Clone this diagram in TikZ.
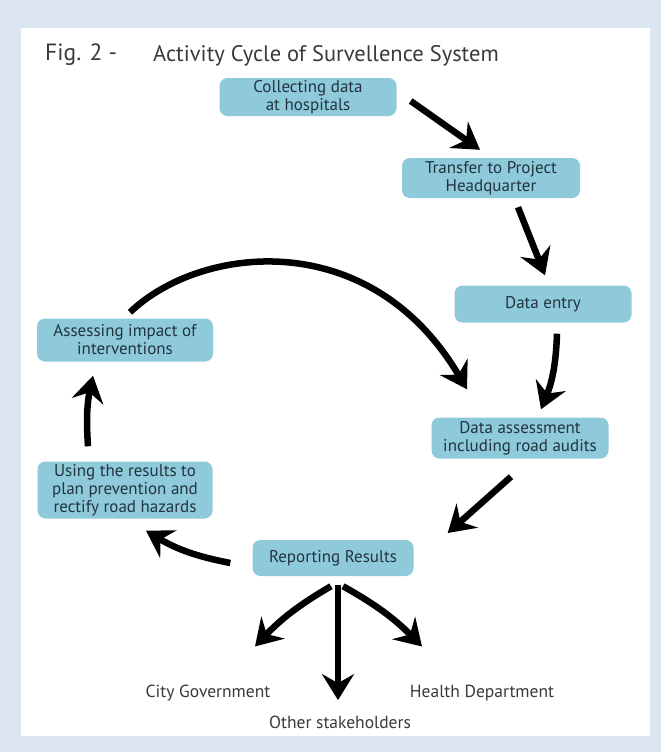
\documentclass[tikz,border=0pt]{standalone}
\usepackage{fontspec}
\setmainfont{PT Sans}
\usetikzlibrary{arrows.meta,calc}
\definecolor{bgblue}{HTML}{DCE6F2}
\definecolor{boxblue}{HTML}{8FCADB}
\definecolor{boxtext}{HTML}{22343F}
\definecolor{greytext}{HTML}{3A3A3A}
\begin{document}
\begin{tikzpicture}[x=1pt,y=-1pt,
  stepbox/.style={fill=boxblue, rounded corners=8pt, text=boxtext, align=center,
    font=\fontsize{17}{18}\selectfont, inner sep=0pt},
  arr/.style={line width=6.5pt, line cap=butt, -{Stealth[length=26pt,width=32pt,inset=9pt]}},
  lab/.style={text=greytext, font=\fontsize{17.5}{20}\selectfont}]
\useasboundingbox (0,0) rectangle (661,752);
\fill[bgblue] (0,0) rectangle (661,752);
\fill[white] (21,28) rectangle (650,736);

% title
\node[anchor=west, text=greytext, font=\fontsize{23.5}{26}\selectfont, inner sep=0pt] (fig) at (45,55) {Fig. 2 -};
\node[anchor=west, text=greytext, font=\fontsize{22.5}{26}\selectfont, inner sep=0pt] (title) at (153,56) {Activity Cycle of Survellence System};

% boxes
\node[stepbox, minimum width=177pt, minimum height=38pt] (c1) at (308,97) {Collecting data\\at hospitals};
\node[stepbox, minimum width=178pt, minimum height=40pt] (c2) at (491,178) {Transfer to Project\\Headquarter};
\node[stepbox, minimum width=177pt, minimum height=37pt] (c3) at (543,304) {Data entry};
\node[stepbox, minimum width=177pt, minimum height=41pt] (c4) at (520,438) {Data assessment\\including road audits};
\node[stepbox, minimum width=161pt, minimum height=36pt] (c5) at (333,558) {Reporting Results};
\node[stepbox, minimum width=175pt, minimum height=57pt] (c6) at (125,490) {Using the results to\\plan prevention and\\rectify road hazards};
\node[stepbox, minimum width=176pt, minimum height=43pt] (c7) at (125,340) {Assessing impact of\\interventions};

% labels
\node[lab] (city) at (208,693) {City Government};
\node[lab] (health) at (482,693) {Health Department};
\node[lab] (other) at (340,722) {Other stakeholders};

% arrows
\draw[arr] ($(c1.east)+(14,4)$) -- ($(c2.north)+(-11,-8)$);
\draw[arr] ($(c2.south)+(27,9)$) -- ($(c3.north)+(2,-10)$);
\draw[arr] ($(c3.south)+(14,11)$) to[bend left=10] ($(c4.north)+(21,-8)$);
\draw[arr] ($(c4.south)+(-9,18)$) -- ($(c5.east)+(34,-25)$);
\draw[arr] ($(c5.west)+(-22,5)$) to[bend left=10] ($(c6.south)+(21,12)$);
\draw[arr] ($(c6.north)+(-37,-15)$) to[bend left=8] ($(c7.south)+(-32,14)$);
\draw[arr] ($(c7.north)+(5,-6)$) .. controls (200,245) and (370,225) .. ($(c4.north)+(-53,-28)$);

\draw[arr] ($(c5.south)+(-2,10)$) to[bend right=8] ($(city.north)+(47,-35)$);
\draw[arr] ($(c5.south)+(5,9)$) -- ($(other.north)+(-2,-12)$);
\draw[arr] ($(c5.south)+(10,10)$) to[bend left=8] ($(health.north)+(-60,-35)$);
\end{tikzpicture}
\end{document}
